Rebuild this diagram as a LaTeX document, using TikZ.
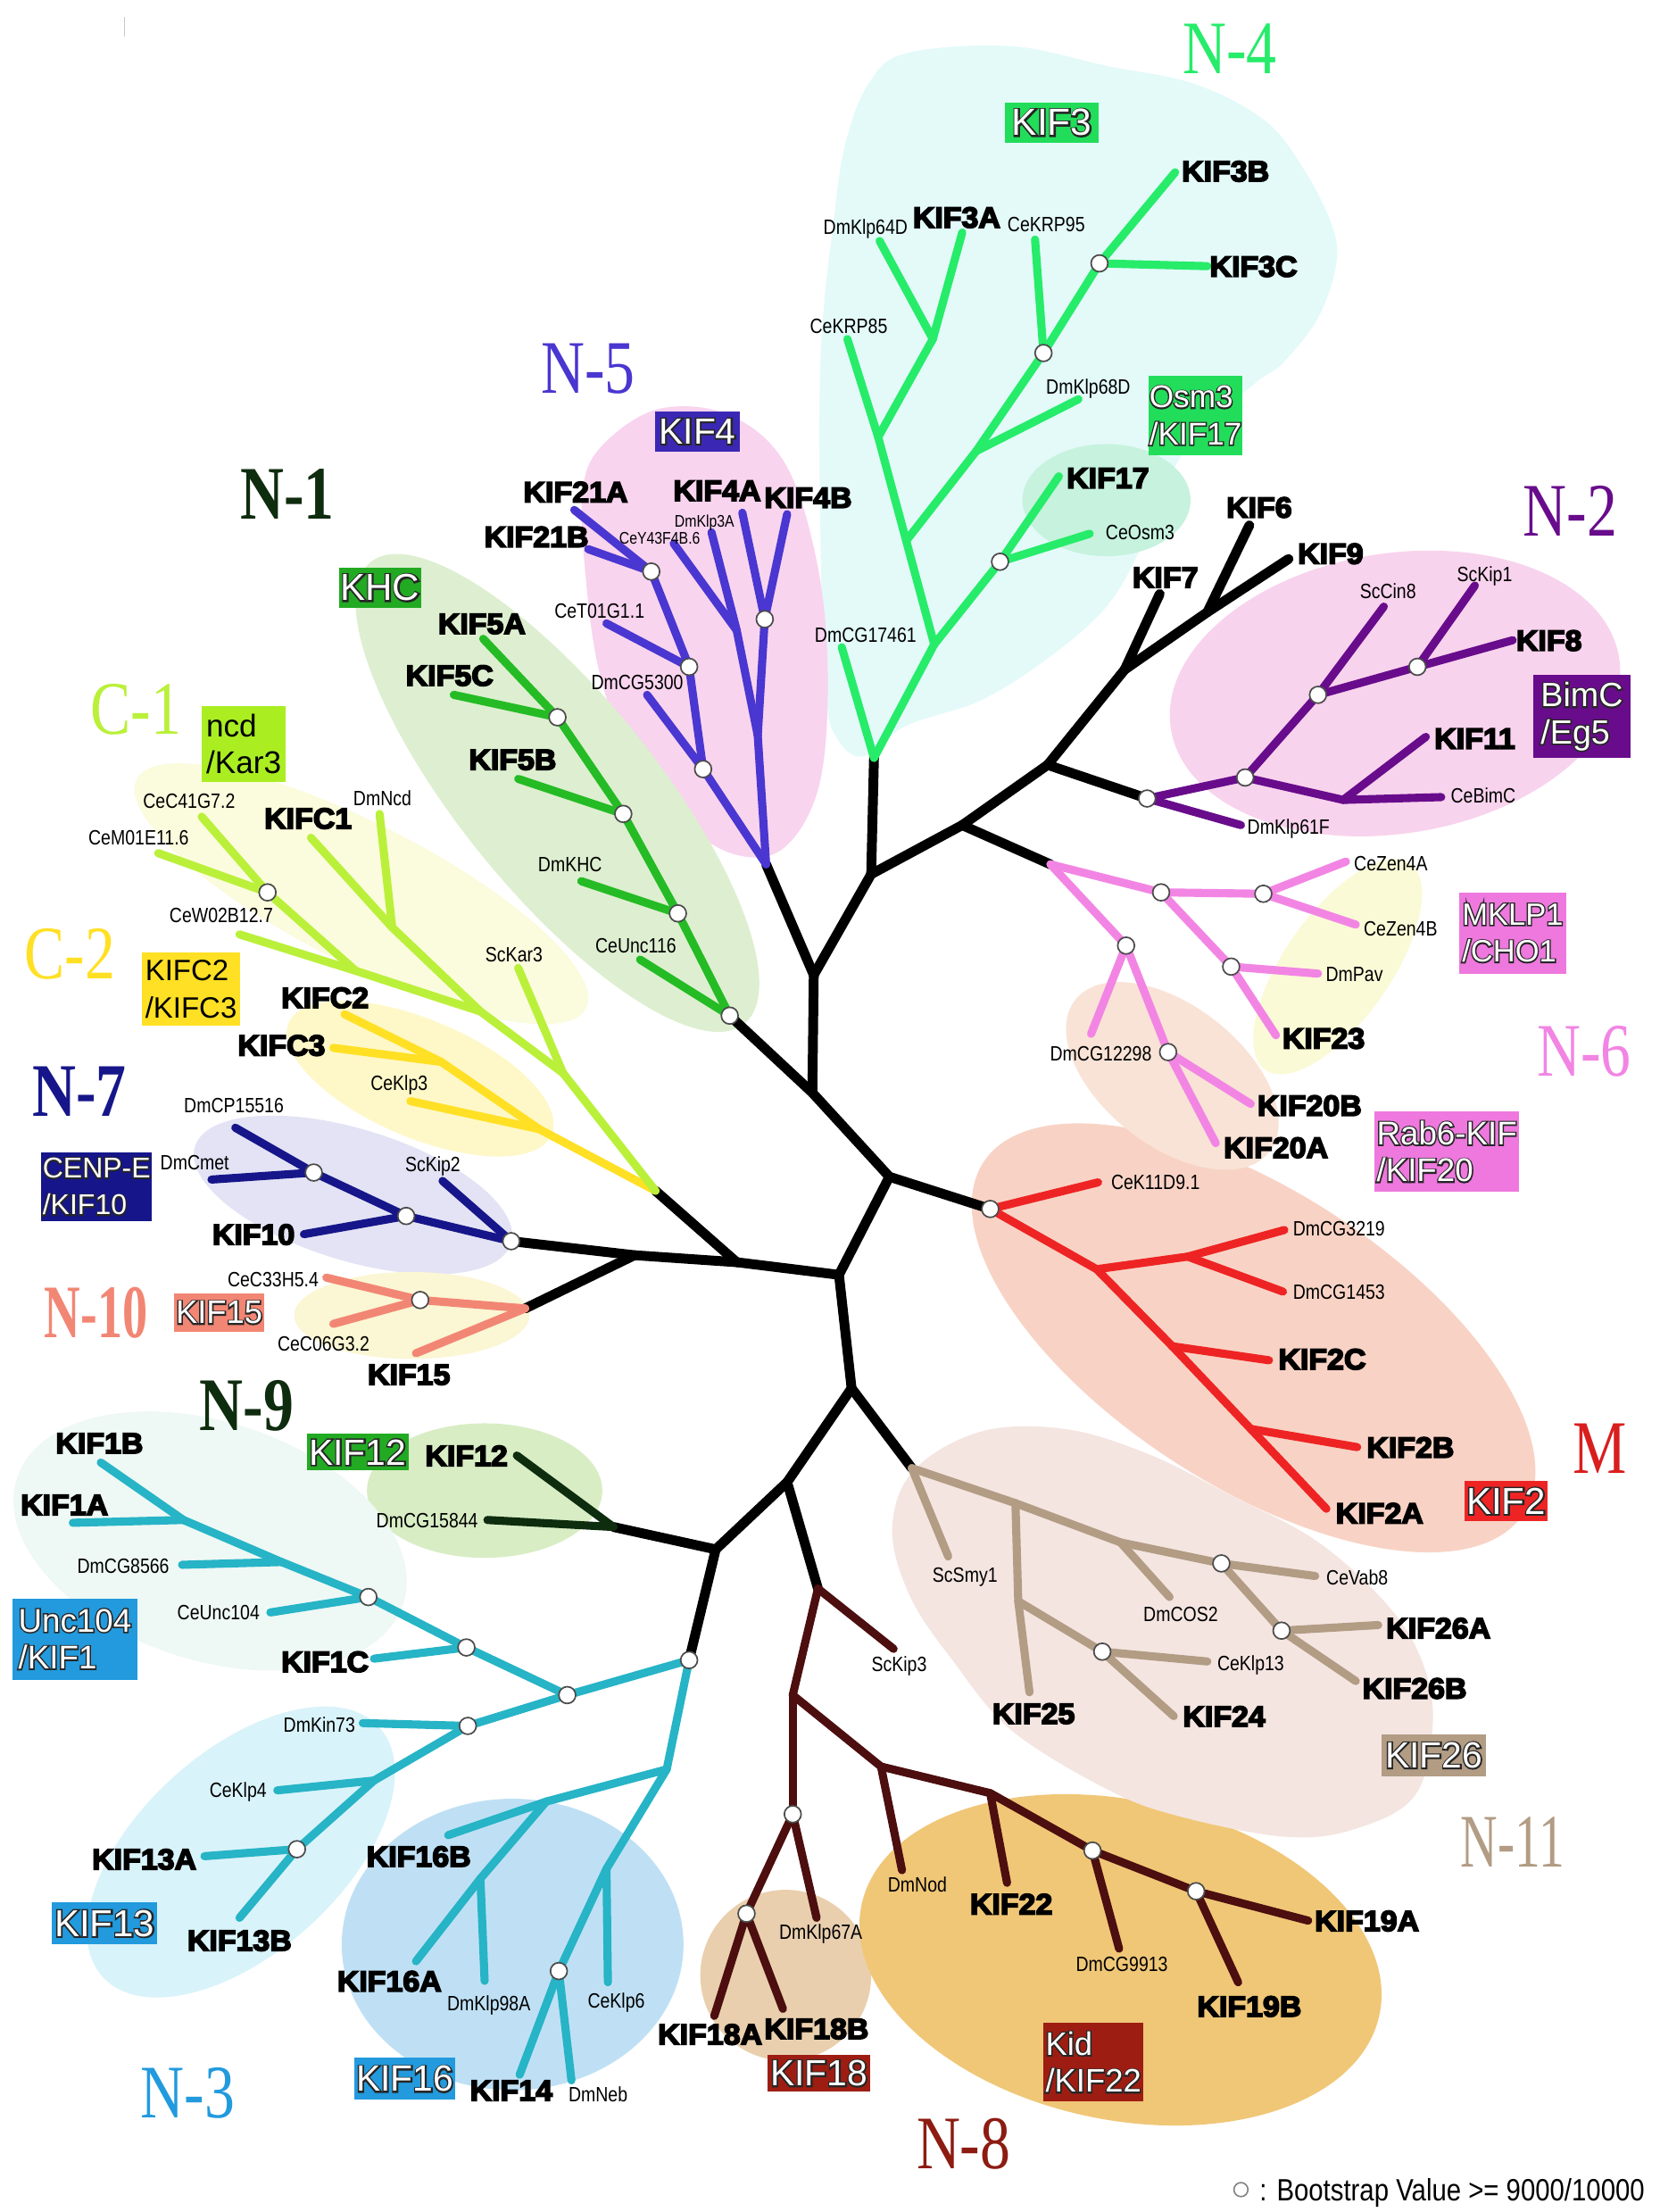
\documentclass[tikz,border=0pt]{standalone}
\usepackage{fontspec}
\usepackage{graphicx}
\setmainfont{Liberation Sans}
\newfontfamily\kfont[FakeStretch=1.04,BoldFeatures={FakeBold=5}]{Liberation Sans}
\newfontfamily\sfont[FakeStretch=0.84]{Liberation Sans}
\newfontfamily\lgfont[FakeStretch=0.85]{Liberation Sans}
\newfontfamily\tfont[FakeStretch=0.8]{Liberation Serif}
\newfontfamily\gfont{Liberation Sans}
\newfontfamily\gfontO[FakeBold=8]{Liberation Sans}
\newcommand\olt[1]{\rlap{\color{black!85}\gfontO #1}#1}
\definecolor{cN4}{HTML}{26EC6A}
\definecolor{cN4b}{HTML}{22DD5A}
\definecolor{cN4bg}{HTML}{E3FAF9}
\definecolor{cN4m}{HTML}{C6F2DE}
\definecolor{cN5}{HTML}{4A36D0}
\definecolor{cN5b}{HTML}{3A28B4}
\definecolor{cN5bg}{HTML}{F8D4EE}
\definecolor{cN1}{HTML}{25BB25}
\definecolor{cN1b}{HTML}{22AA22}
\definecolor{cN1bg}{HTML}{DDEFD0}
\definecolor{cDk}{HTML}{0E2C0E}
\definecolor{cC1}{HTML}{BAF03A}
\definecolor{cC1b}{HTML}{AAEE22}
\definecolor{cC1bg}{HTML}{FBFBDD}
\definecolor{cC2}{HTML}{FFE024}
\definecolor{cC2bg}{HTML}{FEF8C8}
\definecolor{cN7}{HTML}{16168A}
\definecolor{cN7bg}{HTML}{E3E3F5}
\definecolor{cN10}{HTML}{F28674}
\definecolor{cN10bg}{HTML}{FBF6D3}
\definecolor{cN9bg}{HTML}{D8EDC4}
\definecolor{cN3}{HTML}{26B4C6}
\definecolor{cN3b}{HTML}{229ADD}
\definecolor{cN3bgA}{HTML}{EEF8F5}
\definecolor{cN3bgB}{HTML}{D9F3FA}
\definecolor{cN3bgC}{HTML}{BFE0F4}
\definecolor{cN8}{HTML}{4C0E0E}
\definecolor{cN8b}{HTML}{9E1D12}
\definecolor{cN8t}{HTML}{8C1C12}
\definecolor{cN8bgA}{HTML}{E9CFAE}
\definecolor{cN8bgB}{HTML}{F0C777}
\definecolor{cN11}{HTML}{B29C84}
\definecolor{cN11bg}{HTML}{F4E5E1}
\definecolor{cM}{HTML}{EE2424}
\definecolor{cMt}{HTML}{D91E1E}
\definecolor{cMbg}{HTML}{F8D3C5}
\definecolor{cN6}{HTML}{F285E4}
\definecolor{cN6b}{HTML}{EE78DE}
\definecolor{cN6bgA}{HTML}{FBFAD7}
\definecolor{cN6bgB}{HTML}{F9E3D6}
\definecolor{cN2}{HTML}{680C8C}
\definecolor{cN2bg}{HTML}{F8D3ED}
\newcommand\tedges[2]{\foreach \a/\b in {#2} \draw[#1] (\a) -- (\b);}
\tikzset{
 blk/.style={draw=black, line width=3.5pt, line cap=round, line join=round},
 br/.style={draw=#1, line width=2.9pt, line cap=round, line join=round},
 bsc/.style={circle, fill=white, draw=black!70, line width=0.55pt, minimum size=6pt, inner sep=0pt},
 lab/.style={inner sep=0pt, font=\kfont\bfseries\fontsize{10.4}{10.4}\selectfont, text height=7.45pt, text depth=0pt},
 sl/.style={inner sep=0pt, font=\sfont\fontsize{7.4}{7.4}\selectfont, text height=5.3pt, text depth=0pt},
 tl/.style={inner sep=0pt, font=\sfont\fontsize{6}{6}\selectfont, text height=4.3pt, text depth=0pt},
 ttl/.style={inner sep=0pt, text=#1, font=\tfont\fontsize{27}{27}\selectfont, text height=17.9pt, text depth=0pt},
 bdg/.style n args={4}{rectangle, inner sep=0pt, fill=#1, minimum width=#2*0.5pt, minimum height=#3*0.5pt, align=left, text=white, font=\gfont\fontsize{#4}{13.2}\selectfont},
}
\begin{document}
\begin{tikzpicture}[x=0.5pt,y=-0.5pt]
\useasboundingbox (0,0) rectangle (1185,1579);
\fill[white] (0,0) rectangle (1185,1579);
\draw[black!22, line width=0.4pt] (89,12) -- (89,26);
% ---------- background regions ----------
\fill[cN4bg] plot[smooth cycle, tension=0.6] coordinates {(647,38) (722,33) (790,47) (853,60) (903,86) (931,121) (951,161) (954,189) (941,227) (916,259) (898,272) (860,305) (835,340) (815,390) (790,433) (748,470) (700,500) (647,518) (616,540) (597,526) (590,496) (586,395) (586,252) (596,151) (604,101) (620,60)};
\fill[cN4m] (790,357) ellipse [x radius=60, y radius=40];
\fill[cN5bg] plot[smooth cycle, tension=0.6] coordinates {(430,318) (470,292) (520,296) (560,330) (583,400) (591,480) (585,560) (560,605) (525,610) (485,585) (450,540) (428,480) (418,410) (416,350)};
\fill[cN1bg, rotate around={-51:(398,566)}] (398,566) ellipse [x radius=212, y radius=70];
\fill[cC1bg, rotate around={-27:(258,638)}] (258,638) ellipse [x radius=180, y radius=50];
\fill[cC2bg, rotate around={-23:(300,770)}] (300,770) ellipse [x radius=102, y radius=42];
\fill[cN7bg, rotate around={-17:(252,853)}] (252,853) ellipse [x radius=118, y radius=47];
\fill[cN10bg] (294,939) ellipse [x radius=84, y radius=31];
\fill[cN9bg] (346,1064) ellipse [x radius=84, y radius=48];
\fill[cN3bgA, rotate around={-18:(150,1100)}] (150,1100) ellipse [x radius=145, y radius=85];
\fill[cN3bgB, rotate around={42:(172,1322)}] (172,1322) ellipse [x radius=133, y radius=72];
\fill[cN3bgC] (366,1388) ellipse [x radius=122, y radius=104];
\fill[cN8bgA] (561,1410) circle [radius=61];
\fill[cN8bgB, rotate around={-12:(800,1399)}] (800,1399) ellipse [x radius=189, y radius=114];
\fill[cN11bg] plot[smooth cycle, tension=0.6] coordinates {(637,1092) (652,1050) (700,1022) (760,1020) (820,1038) (878,1067) (940,1100) (990,1145) (1015,1185) (1023,1230) (1010,1282) (966,1306) (916,1311) (840,1296) (790,1277) (722,1235) (680,1185) (650,1140)};
\fill[cMbg, rotate around={-33:(895,955)}] (895,955) ellipse [x radius=230, y radius=105];
\fill[cN6bgB, rotate around={-38:(837,768)}] (837,768) ellipse [x radius=88, y radius=50];
\fill[cN6bgA, rotate around={55:(955,690)}] (955,690) ellipse [x radius=90, y radius=38];
\fill[cN2bg, rotate around={9:(996,495)}] (996,495) ellipse [x radius=162, y radius=100];
% ---------- coordinates ----------
\foreach \n/\x/\y in {bA/581/696, bB/622/624, bC/687/589, bD/748/546, bE/803/478, bF/862/437, kif7/828/424, kif6/892/375, kif9/920/399, bJ/580/780, bK/635/840, bL/599/910, bM/526/901, bN/453/896, bO/608/991, bP/562/1058, bQ/511/1106,
 n4r/624/541, n5r/547/617, n6r/750/617, n2r/819/570, n1r/521/725, m0/707/863, c1r/468/850, n7r/365/886, n10r/375/934, n11r/651/1048, n8r/584/1134, n9r/438/1090, n3r/492/1185}
 \coordinate (\n) at (\x,\y);
\foreach \n/\x/\y in {dmcg17461/601/462, g1/667/460, g2/714/401, kif17/756/340, ceosm3/778/381, g3/647/386, g7/627/312, cekrp85/605/242, g8/666/242, dmklp64d/628/172, kif3a/687/166, g4/697/322, dmklp68d/770/285, g5/745/252, cekrp95/739/171, g6/785/188, kif3b/839/123, kif3c/862/190,
 b6/502/549, dmcg5300/462/496, b5/492/476, cet01/433/445, b4/465/408, kif21a/410/364, kif21b/420/392, b3/541/525, b2/526/450, cey43/481/388, dmklp3a/508/380, b1/546/442, kif4a/530/366, kif4b/562/367,
 ceunc116/457/685, a1/484/652, dmkhc/415/629, a2/445/581, kif5b/370/556, a3/398/512, kif5a/345/456, kif5c/324/496}
 \coordinate (\n) at (\x,\y);
\foreach \n/\x/\y in {j2/402/766, sckar3/370/691, j1/343/722, j3/280/662, kifc1/222/598, dmncd/271/581, j4/254/693, cew02/171/667, c1c/191/637, cec41/144/583, cem01/113/609,
 y2/385/806, y1/315/758, kifc2/246/724, kifc3/238/748, ceklp3/293/786,
 sckip2/316/843, q1/290/868, kif10/217/881, q2/224/837, dmcp/168/805, dmcmet/151/842,
 r1/300/928, cec33/233/912, cec06/238/945, kif15/297/966,
 kif12/369/1039, dmcg15844/348/1085}
 \coordinate (\n) at (\x,\y);
\foreach \n/\x/\y in {t1/405/1210, t2/333/1176, kif1c/267/1184, t3/263/1140, ceunc104/193/1151, t4/201/1115, dmcg8566/130/1117, t5/131/1085, kif1a/52/1087, kif1b/72/1044, t6/334/1232, dmkin73/259/1230, t7/267/1271, ceklp4/198/1278, t8/212/1320, kif13a/146/1325, kif13b/171/1369, t9/476/1263, t10/390/1286, kif16b/320/1310, t11/343/1341, dmklp98a/346/1414, kif16a/297/1400, t12/433/1334, ceklp6/434/1415, t13/399/1407, dmneb/408/1485, kif14/371/1481}
 \coordinate (\n) at (\x,\y);
\foreach \n/\x/\y in {sckip3/638/1177, u1/566/1210, u2/566/1295, u3/533/1366, kif18a/510/1439, kif18b/559/1434, dmklp67a/583/1369, u4/629/1261, dmnod/644/1335, u5/707/1280, kif22/719/1344, u6/780/1321, dmcg9913/799/1391, u7/854/1350, kif19a/934/1371, kif19b/884/1415,
 scsmy1/677/1111, v1/725/1073, v2/727/1143, kif25/735/1208, v3/787/1179, ceklp13/862/1186, kif24/838/1225, v5/800/1101, dmcos2/835/1140, v4/872/1116, cevab8/939/1125, v6/915/1164, kif26a/984/1160, kif26b/968/1200}
 \coordinate (\n) at (\x,\y);
\foreach \n/\x/\y in {cek11/784/844, m1/783/906, m2/848/897, dmcg3219/917/878, dmcg1453/916/922, m3/837/961, kif2c/906/971, m4/893/1020, kif2b/969/1033, kif2a/947/1077,
 p1/804/675, dmcg12298/779/738, p2/834/751, kif20b/893/788, kif20a/868/816, p3/829/637, p4/902/638, cezen4a/961/615, cezen4b/968/660, p5/879/690, dmpav/941/695, kif23/911/739,
 dmklp61f/886/589, w1/889/555, w2/959/571, kif11/1018/526, cebimc/1029/569, w3/941/496, sccin8/988/433, w4/1012/476, sckip1/1053/418, kif8/1080/457}
 \coordinate (\n) at (\x,\y);
% ---------- branches ----------
\tedges{blk}{bJ/bA, bA/n5r, bA/bB, bB/n4r, bB/bC, bC/n6r, bC/bD, bD/n2r, bD/bE, bE/kif7, bE/bF, bF/kif6, bF/kif9, bJ/n1r, bJ/bK, bK/m0, bK/bL, bL/bM, bM/c1r, bM/bN, bN/n7r, bN/n10r, bL/bO, bO/n11r, bO/bP, bP/n8r, bP/bQ, bQ/n9r, bQ/n3r}
\tedges{br=cN4}{n4r/dmcg17461, n4r/g1, g1/g3, g1/g2, g2/kif17, g2/ceosm3, g3/g7, g7/cekrp85, g7/g8, g8/dmklp64d, g8/kif3a, g3/g4, g4/dmklp68d, g4/g5, g5/cekrp95, g5/g6, g6/kif3b, g6/kif3c}
\tedges{br=cN5}{n5r/b6, b6/dmcg5300, b6/b5, b5/cet01, b5/b4, b4/kif21a, b4/kif21b, n5r/b3, b3/b2, b2/cey43, b2/dmklp3a, b3/b1, b1/kif4a, b1/kif4b}
\tedges{br=cN1}{n1r/ceunc116, n1r/a1, a1/dmkhc, a1/a2, a2/kif5b, a2/a3, a3/kif5a, a3/kif5c}
\tedges{br=cC2}{c1r/y2, y2/y1, y1/kifc2, y1/kifc3, y2/ceklp3}
\tedges{br=cC1}{c1r/j2, j2/sckar3, j2/j1, j1/j3, j3/kifc1, j3/dmncd, j1/j4, j4/cew02, j4/c1c, c1c/cec41, c1c/cem01}
\tedges{br=cN7}{n7r/sckip2, n7r/q1, q1/kif10, q1/q2, q2/dmcp, q2/dmcmet}
\tedges{br=cN10}{n10r/r1, r1/cec33, r1/cec06, n10r/kif15}
\tedges{br=cDk}{n9r/kif12, n9r/dmcg15844}
\tedges{br=cN3}{n3r/t1, t1/t2, t2/kif1c, t2/t3, t3/ceunc104, t3/t4, t4/dmcg8566, t4/t5, t5/kif1a, t5/kif1b, t1/t6, t6/dmkin73, t6/t7, t7/ceklp4, t7/t8, t8/kif13a, t8/kif13b, n3r/t9, t9/t10, t10/kif16b, t10/t11, t11/dmklp98a, t11/kif16a, t9/t12, t12/ceklp6, t12/t13, t13/dmneb, t13/kif14}
\tedges{br=cN8}{n8r/sckip3, n8r/u1, u1/u2, u2/u3, u3/kif18a, u3/kif18b, u2/dmklp67a, u1/u4, u4/dmnod, u4/u5, u5/kif22, u5/u6, u6/dmcg9913, u6/u7, u7/kif19a, u7/kif19b}
\tedges{br=cN11}{n11r/scsmy1, n11r/v1, v1/v2, v2/kif25, v2/v3, v3/ceklp13, v3/kif24, v1/v5, v5/dmcos2, v5/v4, v4/cevab8, v4/v6, v6/kif26a, v6/kif26b}
\tedges{br=cM}{m0/cek11, m0/m1, m1/m2, m2/dmcg3219, m2/dmcg1453, m1/m3, m3/kif2c, m3/m4, m4/kif2b, m4/kif2a}
\tedges{br=cN6}{n6r/p1, p1/dmcg12298, p1/p2, p2/kif20b, p2/kif20a, n6r/p3, p3/p4, p4/cezen4a, p4/cezen4b, p3/p5, p5/dmpav, p5/kif23}
\tedges{br=cN2}{n2r/dmklp61f, n2r/w1, w1/w2, w2/kif11, w2/cebimc, w1/w3, w3/sccin8, w3/w4, w4/sckip1, w4/kif8}
% ---------- bootstrap circles ----------
\foreach \c in {g2,g5,g6,b1,b4,b5,b6,a1,a2,a3,n1r,c1c,q1,q2,n7r,r1,t1,t2,t3,t6,t8,t13,n3r,u2,u3,u6,u7,v3,v4,v6,m0,p1,p2,p3,p4,p5,n2r,w1,w3,w4}
 \node[bsc] (C\c) at (\c) {};
% ---------- bold labels ----------
\foreach \n/\x/\y/\t in {kif3b/875/122/KIF3B, kif3c/895/190/KIF3C, kif3a/683/155/KIF3A, kif17/791/341/KIF17, kif6/899/362/KIF6, kif9/950/395/KIF9, kif7/832/412/KIF7, kif8/1106/457/KIF8, kif11/1053/527/KIF11, kif23/945/741/KIF23, kif20b/935/789/KIF20B, kif20a/911/819/KIF20A, kif2c/944/970/KIF2C, kif2b/1007/1033/KIF2B, kif2a/985/1080/KIF2A, kif26a/1027/1162/KIF26A, kif26b/1010/1205/KIF26B, kif24/874/1225/KIF24, kif25/738/1223/KIF25, kif19a/976/1371/KIF19A, kif19b/892/1432/KIF19B, kif22/722/1359/KIF22, kif18a/507/1452/KIF18A, kif18b/583/1448/KIF18B, kif14/365/1492/KIF14, kif16a/278/1414/KIF16A, kif16b/299/1325/KIF16B, kif13a/103/1327/KIF13A, kif13b/171/1385/KIF13B, kif1c/232/1186/KIF1C, kif1a/46/1074/KIF1A, kif1b/71/1030/KIF1B, kif12/333/1039/KIF12, kif15/292/981/KIF15, kif10/181/881/KIF10, kifc3/201/746/KIFC3, kifc2/232/712/KIFC2, kifc1/220/584/KIFC1, kif5b/366/542/KIF5B, kif5c/321/482/KIF5C, kif5a/344/445/KIF5A, kif21b/383/383/KIF21B, kif21a/411/351/KIF21A, kif4a/512/350/KIF4A, kif4b/577/355/KIF4B}
 \node[lab] (L\n) at (\x,\y) {\t};
% ---------- small labels ----------
\foreach \n/\x/\y/\t in {dmklp64d/618/162/DmKlp64D, cekrp95/747/160/CeKRP95, cekrp85/606/233/CeKRP85, dmklp68d/777/276/DmKlp68D, dmcg17461/618/453/DmCG17461, ceosm3/814/380/CeOsm3, cet01/428/436/CeT01G1.1, dmcg5300/455/487/DmCG5300, dmkhc/407/617/DmKHC, ceunc116/454/675/CeUnc116, cec41/135/572/CeC41G7.2, cem01/99/598/CeM01E11.6, dmncd/273/570/DmNcd, cew02/158/653/CeW02B12.7, sckar3/367/681/ScKar3, ceklp3/285/773/CeKlp3, dmcp/167/789/DmCP15516, dmcmet/139/830/DmCmet, sckip2/309/831/ScKip2, cec33/195/913/CeC33H5.4, cec06/231/959/CeC06G3.2, dmcg15844/305/1085/DmCG15844, dmcg8566/88/1118/DmCG8566, ceunc104/156/1151/CeUnc104, dmkin73/228/1231/DmKin73, ceklp4/170/1278/CeKlp4, dmklp98a/349/1430/DmKlp98A, ceklp6/440/1428/CeKlp6, dmneb/427/1495/DmNeb, sckip3/642/1188/ScKip3, dmklp67a/586/1379/DmKlp67A, dmnod/655/1345/DmNod, dmcg9913/801/1402/DmCG9913, scsmy1/689/1124/ScSmy1, dmcos2/843/1152/DmCOS2, cevab8/969/1126/CeVab8, ceklp13/893/1187/CeKlp13, cek11/825/844/CeK11D9.1, dmcg3219/956/877/DmCG3219, dmcg1453/956/922/DmCG1453, dmcg12298/786/752/DmCG12298, dmpav/967/695/DmPav, cezen4a/993/616/CeZen4A, cezen4b/1000/663/CeZen4B, dmklp61f/920/590/DmKlp61F, cebimc/1059/568/CeBimC, sccin8/991/422/ScCin8, sckip1/1060/410/ScKip1}
 \node[sl] (L\n) at (\x,\y) {\t};
\node[tl] (Lcey43) at (471,384) {CeY43F4B.6};
\node[tl] (Ldmklp3a) at (503,372) {DmKlp3A};
% ---------- badges ----------
\node[bdg={cN4b}{67}{29}{13.5}] (Bkif3) at (751,87.5) {\olt{KIF3}};
\node[bdg={cN4b}{67}{57}{11.2}] (Bosm3) at (853.6,296.6) {\olt{Osm3}\\\olt{/KIF17}};
\node[bdg={cN5b}{60}{29}{13}] (Bkif4) at (498,308) {\olt{KIF4}};
\node[bdg={cN1b}{59}{29}{13.4}] (Bkhc) at (271.4,419.5) {\olt{KHC}};
\node[bdg={cC1b}{60}{54}{11.2}, text=black] (Bncd) at (174,531) {ncd\\/Kar3};
\node[bdg={cC2}{70}{52}{10.5}, text=black] (Bkifc) at (136.4,706) {KIFC2\\/KIFC3};
\node[bdg={cN7}{79}{49}{10.2}] (Bcenp) at (69,847) {\olt{CENP-E}\\\olt{/KIF10}};
\node[bdg={cN10}{64}{27}{11.6}] (Bkif15) at (156.5,937) {\olt{KIF15}};
\node[bdg={cN1b}{73}{26}{13}] (Bkif12) at (255.4,1036.6) {\olt{KIF12}};
\node[bdg={cN3b}{89}{58}{11.7}] (Bunc) at (53.5,1170) {\olt{Unc104}\\\olt{/KIF1}};
\node[bdg={cN3b}{75}{30}{13.4}] (Bkif13) at (74.7,1373) {\olt{KIF13}};
\node[bdg={cN3b}{72}{30}{13}] (Bkif16) at (289,1484) {\olt{KIF16}};
\node[bdg={cN8b}{73}{26}{13}] (Bkif18) at (584.7,1480) {\olt{KIF18}};
\node[bdg={cN8b}{71}{56}{11.6}] (Bkid) at (780.7,1472) {\olt{Kid}\\\olt{/KIF22}};
\node[bdg={cN11}{74}{30}{13}] (Bkif26) at (1023.7,1253) {\olt{KIF26}};
\node[bdg={cM}{59}{29}{13.4}] (Bkif2) at (1075.3,1071.5) {\olt{KIF2}};
\node[bdg={cN6b}{103}{57}{11.7}] (Brab6) at (1033,822) {\olt{Rab6-KIF}\\\olt{/KIF20}};
\node[bdg={cN6b}{76}{58}{11}] (Bmklp) at (1080,666) {\olt{MKLP1}\\\olt{/CHO1}};
\node[bdg={cN2}{69}{59}{12}] (Bbimc) at (1129.4,511.5) {\olt{BimC}\\\olt{/Eg5}};
% ---------- group titles ----------
\node[ttl=cN4] (Tn4) at (878,34.6) {N-4};
\node[ttl=cN5] (Tn5) at (420,262.6) {N-5};
\node[ttl=cDk, font=\tfont\bfseries\fontsize{27}{27}\selectfont] (Tn1) at (205.3,352.7) {N-1};
\node[ttl=cN2] (Tn2) at (1121,365) {N-2};
\node[ttl=cC1] (Tc1) at (97,506) {C-1};
\node[ttl=cC2] (Tc2) at (50,681) {C-2};
\node[ttl=cN7, font=\tfont\bfseries\fontsize{27}{27}\selectfont] (Tn7) at (56.7,779) {N-7};
\node[ttl=cN6] (Tn6) at (1131,750) {N-6};
\node[ttl=cMt] (Tm) at (1142,1034) {M};
\node[ttl=cN10, font=\tfont\bfseries\fontsize{27}{27}\selectfont] (Tn10) at (68.6,937) {\scalebox{0.83}[1]{N-10}};
\node[ttl=cDk, font=\tfont\bfseries\fontsize{27}{27}\selectfont] (Tn9) at (176.3,1003) {N-9};
\node[ttl=cN11] (Tn11) at (1080,1315) {\scalebox{0.85}[1]{N-11}};
\node[ttl=cN3b] (Tn3) at (134,1494) {N-3};
\node[ttl=cN8t] (Tn8) at (688,1530) {N-8};
% ---------- legend ----------
\node[circle, draw=black!50, line width=0.5pt, minimum size=5pt, inner sep=0pt] (Lgc) at (886,1563) {};
\node[anchor=west, inner sep=0pt, font=\lgfont\fontsize{11}{11}\selectfont, text height=7.9pt, text depth=0pt] (Lgt) at (899,1563) {: Bootstrap Value >= 9000/10000};
\end{tikzpicture}
\end{document}
